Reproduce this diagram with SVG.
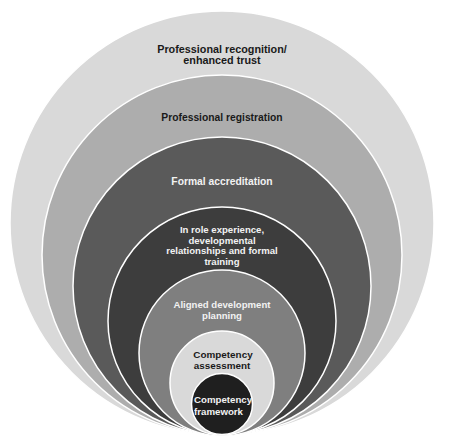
<svg xmlns="http://www.w3.org/2000/svg" width="458" height="443" viewBox="0 0 458 443">
<style>
.ring{stroke:#ffffff;stroke-width:1.5}
.t{font-family:"Liberation Sans",Arial,sans-serif;font-weight:bold;text-anchor:middle}
.dk{fill:#1a1a1a}
.lt{fill:#f2f2f2}
</style>
<rect width="458" height="443" fill="#ffffff"/>
<g id="ring-recognition">
<circle class="ring" cx="222" cy="223" r="212" fill="#d9d9d9"/>
<text class="t dk" font-size="10.8" x="222" y="53">Professional recognition/</text>
<text class="t dk" font-size="10.8" x="222" y="64">enhanced trust</text>
</g>
<g id="ring-registration">
<circle class="ring" cx="222" cy="255" r="180" fill="#adadad"/>
<text class="t dk" font-size="10.3" x="222" y="121">Professional registration</text>
</g>
<g id="ring-accreditation">
<circle class="ring" cx="222" cy="286" r="149" fill="#5a5a5a"/>
<text class="t lt" font-size="10.3" x="222" y="185">Formal accreditation</text>
</g>
<g id="ring-experience">
<circle class="ring" cx="222" cy="321" r="114" fill="#3d3d3d"/>
<text class="t lt" font-size="9.6" x="222" y="233">In role experience,</text>
<text class="t lt" font-size="9.6" x="222" y="243.7">developmental</text>
<text class="t lt" font-size="9.6" x="222" y="254.4">relationships and formal</text>
<text class="t lt" font-size="9.6" x="222" y="265">training</text>
</g>
<g id="ring-planning">
<circle class="ring" cx="222" cy="353" r="83" fill="#7f7f7f"/>
<text class="t lt" font-size="9.6" x="222" y="308">Aligned development</text>
<text class="t lt" font-size="9.6" x="222" y="319">planning</text>
</g>
<g id="ring-assessment">
<circle class="ring" cx="222" cy="383" r="52" fill="#d9d9d9"/>
<text class="t dk" font-size="9.9" x="223" y="357.5">Competency</text>
<text class="t dk" font-size="9.9" x="222" y="368.5">assessment</text>
</g>
<g id="ring-framework">
<circle class="ring" cx="222" cy="404" r="30.5" fill="#1f1f1f"/>
<text class="t lt" font-size="9.7" x="194" y="403" style="text-anchor:start">Competency</text>
<text class="t lt" font-size="9.7" x="194" y="415" style="text-anchor:start">framework</text>
</g>
<g id="connectors"></g>
</svg>
